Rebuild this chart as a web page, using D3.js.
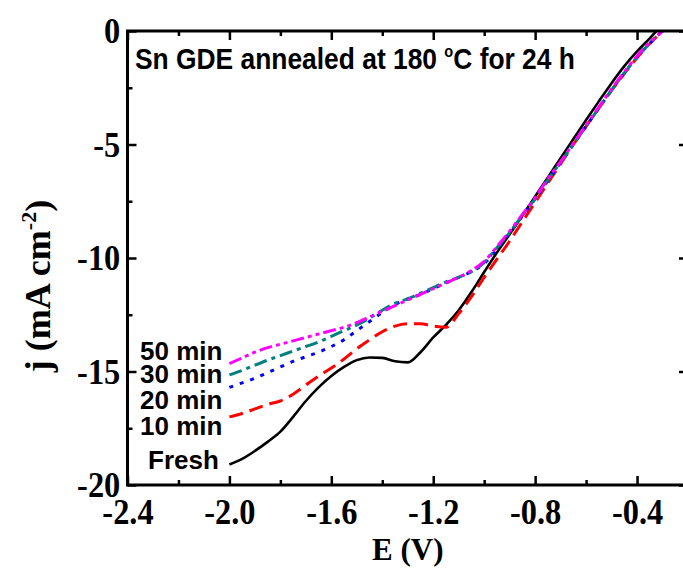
<!DOCTYPE html>
<html>
<head>
<meta charset="utf-8">
<script src="https://cdn.jsdelivr.net/npm/d3@7"></script>
<style>
  html, body { margin: 0; padding: 0; background: #fff; }
  svg { display: block; }
</style>
</head>
<body>
<svg id="chart" width="683" height="573"></svg>
<script>
// Electrode potential grid (V) shared by all polarisation curves
const potential = [-2.00, -1.95, -1.90, -1.85, -1.80, -1.75, -1.70, -1.65, -1.60, -1.55,
                   -1.50, -1.45, -1.40, -1.35, -1.30, -1.25, -1.20, -1.15, -1.10, -1.05,
                   -1.00, -0.95, -0.90, -0.85, -0.80, -0.75, -0.70, -0.65, -0.60, -0.55,
                   -0.50, -0.45, -0.40, -0.35, -0.30];

// Current density (mA cm^-2) for each electrolysis time
const fresh = [-19.10, -18.85, -18.50, -18.10, -17.65, -17.00, -16.30, -15.70, -15.20, -14.80,
               -14.50, -14.38, -14.40, -14.55, -14.60, -14.15, -13.50, -12.95, -12.30, -11.50,
               -10.62, -9.76, -8.95, -8.13, -7.29, -6.45, -5.60, -4.76, -3.92, -3.10,
               -2.30, -1.55, -0.90, -0.32, 0.30];
const min10 = [-17.00, -16.85, -16.65, -16.45, -16.30, -16.00, -15.60, -15.20, -14.85, -14.45,
               -14.00, -13.60, -13.25, -13.00, -12.90, -12.90, -13.00, -13.05, -12.45, -11.70,
               -10.85, -10.05, -9.25, -8.40, -7.55, -6.70, -5.85, -5.00, -4.20, -3.40,
               -2.62, -1.88, -1.18, -0.55, 0.00];
const min20 = [-15.70, -15.50, -15.30, -15.05, -14.80, -14.55, -14.35, -14.15, -13.90, -13.60,
               -13.20, -12.80, -12.40, -12.05, -11.80, -11.60, -11.35, -11.10, -10.85, -10.60,
               -10.25, -9.60, -8.90, -8.15, -7.40, -6.60, -5.80, -5.00, -4.20, -3.40,
               -2.60, -1.85, -1.15, -0.55, 0.00];
const min30 = [-15.15, -14.95, -14.72, -14.50, -14.30, -14.10, -13.90, -13.70, -13.45, -13.20,
               -12.95, -12.65, -12.30, -12.00, -11.80, -11.55, -11.30, -11.05, -10.85, -10.60,
               -10.20, -9.55, -8.88, -8.12, -7.38, -6.55, -5.78, -5.00, -4.20, -3.40,
               -2.60, -1.85, -1.15, -0.55, 0.00];
const min50 = [-14.65, -14.40, -14.15, -13.95, -13.80, -13.65, -13.50, -13.35, -13.20, -13.05,
               -12.85, -12.60, -12.35, -12.10, -11.85, -11.60, -11.35, -11.10, -10.85, -10.55,
               -10.15, -9.50, -8.82, -8.08, -7.35, -6.50, -5.75, -4.95, -4.15, -3.35,
               -2.55, -1.80, -1.10, -0.50, 0.00];

const seriesLabels = ["Fresh", "10 min", "20 min", "30 min", "50 min"];

// Axis ticks
const xTicks = [-2.4, -2.0, -1.6, -1.2, -0.8, -0.4];
const xMinorTicks = [-2.2, -1.8, -1.4, -1.0, -0.6];
const yTicks = [0, -5, -10, -15, -20];
const yMinorTicks = [-2.5, -7.5, -12.5, -17.5];

const titleMain = "Sn GDE annealed at 180 ";
const titleDegree = "o";
const titleRest = "C for 24 h";
const xTitle = "E (V)";
const yTitleMain = "j (mA cm";
const yTitleSup = "-2";
const yTitleEnd = ")";

// ---------------------------------------------------------------
const svg = d3.select("#chart");
const plot = { left: 127.5, right: 688, top: 31, bottom: 485 };

const x = d3.scaleLinear().domain([-2.4, -0.2]).range([plot.left, plot.right]);
const y = d3.scaleLinear().domain([-20, 0]).range([plot.bottom, plot.top]);

const serif = "'Liberation Serif', 'Times New Roman', serif";
const sans = "'Liberation Sans', Arial, sans-serif";

svg.append("defs").append("clipPath").attr("id", "plot-clip")
  .append("rect")
  .attr("x", plot.left).attr("y", plot.top)
  .attr("width", plot.right - plot.left).attr("height", plot.bottom - plot.top);

// Curves
const series = [
  { name: seriesLabels[0], values: fresh, color: "#000000", dash: null,             width: 2.6 },
  { name: seriesLabels[1], values: min10, color: "#ff0000", dash: "14,7",            width: 3 },
  { name: seriesLabels[2], values: min20, color: "#0000ff", dash: "4,7",             width: 3 },
  { name: seriesLabels[3], values: min30, color: "#008080", dash: "13,5,4,5",        width: 3 },
  { name: seriesLabels[4], values: min50, color: "#ff00ff", dash: "13,4,4,4,4,4",    width: 3 }
];

const line = d3.line()
  .x((d, i) => x(potential[i]))
  .y(d => y(d))
  .curve(d3.curveMonotoneX);

const curves = svg.append("g").attr("clip-path", "url(#plot-clip)");
series.forEach(s => {
  curves.append("path")
    .datum(s.values)
    .attr("d", line)
    .attr("fill", "none")
    .attr("stroke", s.color)
    .attr("stroke-width", s.width)
    .attr("stroke-dasharray", s.dash)
    .attr("stroke-linejoin", "round");
});

// Axes: inward ticks on all four sides
function styleAxis(g) {
  g.select(".domain").remove();
  g.selectAll(".tick line").attr("stroke", "#000").attr("stroke-width", 2.5);
}

const xFmt = d => d.toFixed(1);
const yFmt = d => String(d);

const bottomMajor = svg.append("g")
  .attr("transform", `translate(0,${plot.bottom})`)
  .call(d3.axisBottom(x).tickValues(xTicks).tickSizeInner(-9).tickSizeOuter(0)
        .tickPadding(13).tickFormat(xFmt));
styleAxis(bottomMajor);
bottomMajor.selectAll(".tick text")
  .attr("font-family", serif).attr("font-weight", "bold").attr("font-size", 36)
  .attr("fill", "#000").attr("transform", "scale(0.9,1)");

svg.append("g")
  .attr("transform", `translate(0,${plot.bottom})`)
  .call(d3.axisBottom(x).tickValues(xMinorTicks).tickSizeInner(-5).tickSizeOuter(0).tickFormat(""))
  .call(styleAxis);

svg.append("g")
  .attr("transform", `translate(0,${plot.top})`)
  .call(d3.axisTop(x).tickValues(xTicks).tickSizeInner(-9).tickSizeOuter(0).tickFormat(""))
  .call(styleAxis);
svg.append("g")
  .attr("transform", `translate(0,${plot.top})`)
  .call(d3.axisTop(x).tickValues(xMinorTicks).tickSizeInner(-5).tickSizeOuter(0).tickFormat(""))
  .call(styleAxis);

const leftMajor = svg.append("g")
  .attr("transform", `translate(${plot.left},0)`)
  .call(d3.axisLeft(y).tickValues(yTicks).tickSizeInner(-9).tickSizeOuter(0)
        .tickPadding(8).tickFormat(yFmt));
styleAxis(leftMajor);
leftMajor.selectAll(".tick text")
  .attr("font-family", serif).attr("font-weight", "bold").attr("font-size", 36)
  .attr("fill", "#000").attr("transform", "scale(0.9,1)");

svg.append("g")
  .attr("transform", `translate(${plot.left},0)`)
  .call(d3.axisLeft(y).tickValues(yMinorTicks).tickSizeInner(-5).tickSizeOuter(0).tickFormat(""))
  .call(styleAxis);

svg.append("g")
  .attr("transform", `translate(${plot.right},0)`)
  .call(d3.axisRight(y).tickValues(yTicks).tickSizeInner(-9).tickSizeOuter(0).tickFormat(""))
  .call(styleAxis);
svg.append("g")
  .attr("transform", `translate(${plot.right},0)`)
  .call(d3.axisRight(y).tickValues(yMinorTicks).tickSizeInner(-5).tickSizeOuter(0).tickFormat(""))
  .call(styleAxis);

// Frame
svg.append("rect")
  .attr("x", plot.left).attr("y", plot.top)
  .attr("width", plot.right - plot.left).attr("height", plot.bottom - plot.top)
  .attr("fill", "none").attr("stroke", "#000").attr("stroke-width", 3);

// Axis titles
svg.append("text")
  .attr("x", (plot.left + plot.right) / 2).attr("y", 560)
  .attr("text-anchor", "middle")
  .attr("font-family", serif).attr("font-weight", "bold").attr("font-size", 31)
  .text(xTitle);

const yTitle = svg.append("text")
  .attr("transform", "translate(50,286) rotate(-90)")
  .attr("text-anchor", "middle")
  .attr("font-family", serif).attr("font-weight", "bold").attr("font-size", 36);
yTitle.append("tspan").text(yTitleMain);
yTitle.append("tspan").attr("font-size", 22).attr("dy", -14).text(yTitleSup);
yTitle.append("tspan").attr("dy", 14).text(yTitleEnd);

// Title inside the frame, fitted to its width
const title = svg.append("text")
  .attr("x", 0).attr("y", 0)
  .attr("font-family", sans).attr("font-weight", "bold").attr("font-size", 29)
  .attr("fill", "#000");
title.append("tspan").text(titleMain);
title.append("tspan").attr("font-size", 16).attr("dy", -12).text(titleDegree);
title.append("tspan").attr("dy", 12).text(titleRest);
const tw = title.node().getComputedTextLength();
title.attr("transform", `translate(135,69) scale(${440 / tw},1)`);

// Curve labels at the left ends
const labelPos = [
  { text: seriesLabels[4], x: 140, y: 360 },
  { text: seriesLabels[3], x: 140, y: 383 },
  { text: seriesLabels[2], x: 140, y: 409 },
  { text: seriesLabels[1], x: 140, y: 435 },
  { text: seriesLabels[0], x: 148, y: 469 }
];
svg.append("g").selectAll("text")
  .data(labelPos)
  .join("text")
  .attr("x", d => d.x).attr("y", d => d.y)
  .attr("font-family", sans).attr("font-weight", "bold").attr("font-size", 26)
  .attr("fill", "#000")
  .text(d => d.text);
</script>
</body>
</html>
